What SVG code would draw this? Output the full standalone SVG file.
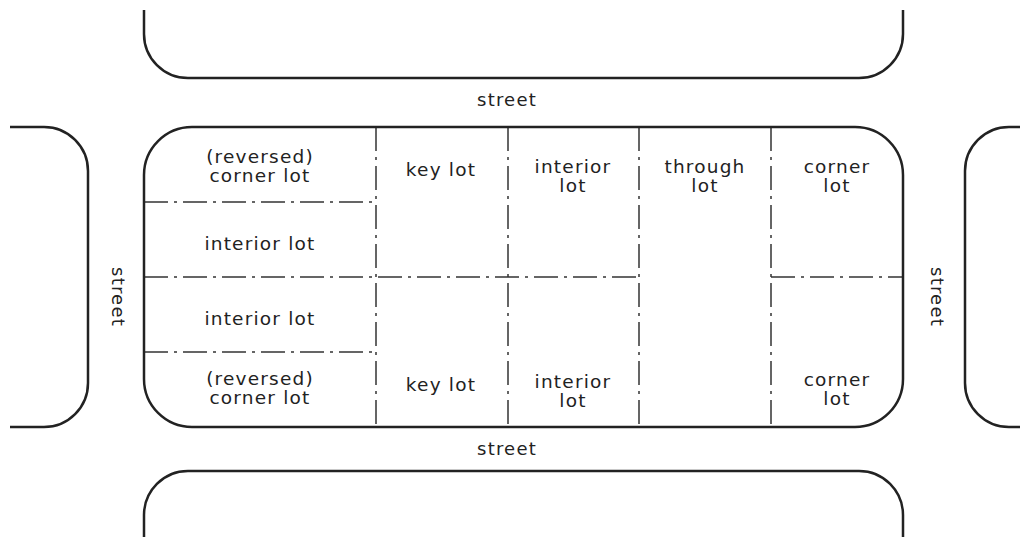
<svg xmlns="http://www.w3.org/2000/svg" width="1029" height="537" viewBox="0 0 1029 537">
<style>
.blk{fill:none;stroke:#222;stroke-width:2.5;stroke-linejoin:round}
.div{fill:none;stroke:#333;stroke-width:1.5;stroke-dasharray:24 6 3 6}
.lbl{font-family:"DejaVu Sans",sans-serif;font-size:18.5px;letter-spacing:1.2px;fill:#222;text-anchor:middle}
.st{font-family:"DejaVu Sans",sans-serif;font-size:18px;letter-spacing:1.2px;fill:#222;text-anchor:middle}
</style>
<rect width="1029" height="537" fill="#fff"/>
<g id="surrounding-blocks">
<path id="block-top" class="blk" d="M144,10 V34 A44,44 0 0 0 188,78 H859 A44,44 0 0 0 903,34 V10"/>
<path id="block-bottom" class="blk" d="M144,537 V515 A44,44 0 0 1 188,471 H859 A44,44 0 0 1 903,515 V537"/>
<path id="block-left" class="blk" d="M10,127 H44 A44,44 0 0 1 88,171 V383 A44,44 0 0 1 44,427 H10"/>
<path id="block-right" class="blk" d="M1020,127 H1009 A44,44 0 0 0 965,171 V383 A44,44 0 0 0 1009,427 H1020"/>
</g>
<g id="streets">
<text class="st" x="507" y="106">street</text>
<text class="st" x="507" y="455">street</text>
<text class="st" transform="translate(112,297) rotate(90)" x="0" y="0">street</text>
<text class="st" transform="translate(931,297) rotate(90)" x="0" y="0">street</text>
</g>
<g id="connectors">
<line class="div" x1="376" y1="127" x2="376" y2="427"/>
<line class="div" x1="508" y1="127" x2="508" y2="427"/>
<line class="div" x1="639" y1="127" x2="639" y2="427"/>
<line class="div" x1="771" y1="127" x2="771" y2="427"/>
<line class="div" x1="144" y1="202" x2="376" y2="202"/>
<line class="div" x1="144" y1="277" x2="639" y2="277"/>
<line class="div" x1="771" y1="277" x2="903" y2="277"/>
<line class="div" x1="144" y1="352" x2="376" y2="352"/>
</g>
<g id="main-block">
<rect class="blk" x="144" y="127" width="759" height="300" rx="48"/>
</g>
<g id="lot-rev-corner-top"><text class="lbl" x="260" y="163">(reversed)</text><text class="lbl" x="260" y="182">corner lot</text></g>
<g id="lot-interior-l1"><text class="lbl" x="260" y="250">interior lot</text></g>
<g id="lot-interior-l2"><text class="lbl" x="260" y="325">interior lot</text></g>
<g id="lot-rev-corner-bottom"><text class="lbl" x="260" y="385">(reversed)</text><text class="lbl" x="260" y="404">corner lot</text></g>
<g id="lot-key-top"><text class="lbl" x="441" y="176">key lot</text></g>
<g id="lot-key-bottom"><text class="lbl" x="441" y="391">key lot</text></g>
<g id="lot-interior-top"><text class="lbl" x="573" y="173">interior</text><text class="lbl" x="573" y="192">lot</text></g>
<g id="lot-interior-bottom"><text class="lbl" x="573" y="388">interior</text><text class="lbl" x="573" y="407">lot</text></g>
<g id="lot-through"><text class="lbl" x="705" y="173">through</text><text class="lbl" x="705" y="192">lot</text></g>
<g id="lot-corner-top"><text class="lbl" x="837" y="173">corner</text><text class="lbl" x="837" y="192">lot</text></g>
<g id="lot-corner-bottom"><text class="lbl" x="837" y="386">corner</text><text class="lbl" x="837" y="405">lot</text></g>
</svg>
